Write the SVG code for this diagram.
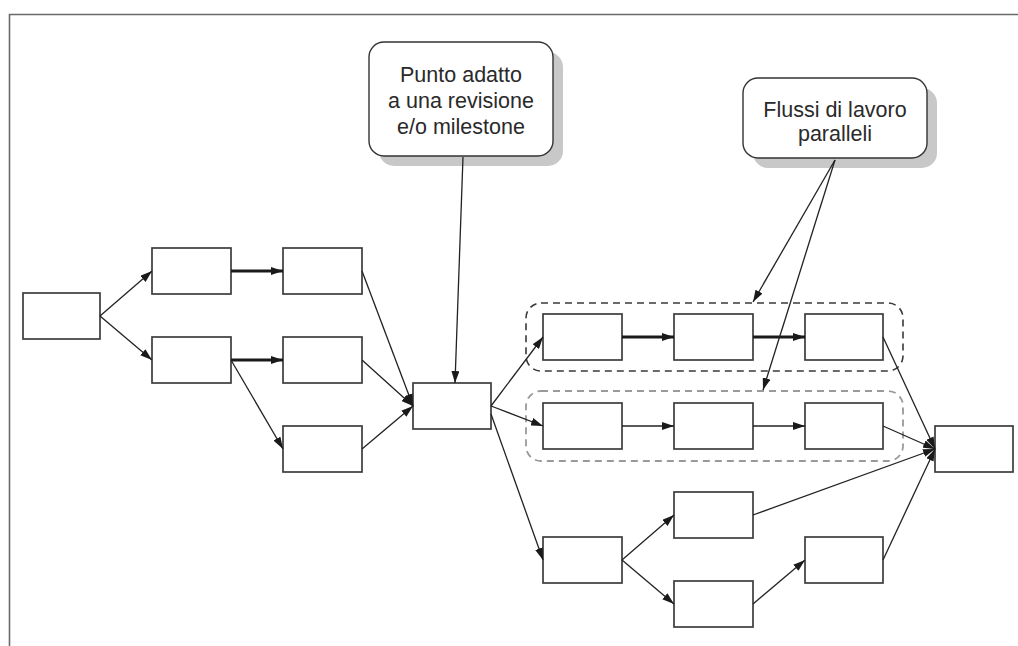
<svg xmlns="http://www.w3.org/2000/svg" width="1018" height="646" viewBox="0 0 1018 646">
<defs>
<marker id="ah" viewBox="0 0 12 8" refX="12" refY="4" markerWidth="12" markerHeight="8" markerUnits="userSpaceOnUse" orient="auto">
<path d="M0,0 L12,4 L0,8 z" fill="#1a1a1a"/>
</marker>
<style>
.node{fill:#fff;stroke:#3c3c3c;stroke-width:1.7}
.c{fill:none;stroke:#222;stroke-width:1.3;marker-end:url(#ah)}
.t{fill:none;stroke:#1a1a1a;stroke-width:2.8;marker-end:url(#ah)}
.call{fill:#fff;stroke:#333;stroke-width:1.4}
.sh{fill:#c8c8c8}
.lbl{font-family:"Liberation Sans",Arial,sans-serif;font-size:21.5px;fill:#2a2a2a;text-anchor:middle}
.grp1{fill:none;stroke:#3a3a3a;stroke-width:1.6;stroke-dasharray:7 5}
.grp2{fill:none;stroke:#9a9a9a;stroke-width:1.8;stroke-dasharray:7 5}
</style>
</defs>
<rect x="0" y="0" width="1018" height="646" fill="#fff"/>
<path d="M9.5,646 L9.5,14.5 L1018,14.5" fill="none" stroke="#6a6a6a" stroke-width="1.6"/>

<g id="group-parallel-1"><rect class="grp1" x="526" y="303" width="377" height="68" rx="15"/></g>
<g id="group-parallel-2"><rect class="grp2" x="526" y="391" width="377" height="70" rx="15"/></g>

<g id="callout-milestone">
<rect class="sh" x="379" y="52" width="184" height="114" rx="15"/>
<rect class="call" x="369" y="42" width="184" height="114" rx="15"/>
<text class="lbl" x="461" y="82">Punto adatto</text>
<text class="lbl" x="461" y="108">a una revisione</text>
<text class="lbl" x="461" y="134">e/o milestone</text>
</g>
<g id="callout-parallel">
<rect class="sh" x="753" y="88" width="184" height="80" rx="15"/>
<rect class="call" x="743" y="78" width="184" height="80" rx="15"/>
<text class="lbl" x="835" y="117">Flussi di lavoro</text>
<text class="lbl" x="835" y="141">paralleli</text>
</g>

<g id="n0"><rect class="node" x="23" y="293" width="77" height="46"/></g>
<g id="n1"><rect class="node" x="152" y="248" width="79" height="46"/></g>
<g id="n2"><rect class="node" x="283" y="248" width="79" height="46"/></g>
<g id="n3"><rect class="node" x="152" y="337" width="79" height="46"/></g>
<g id="n4"><rect class="node" x="283" y="337" width="79" height="46"/></g>
<g id="n5"><rect class="node" x="283" y="426" width="79" height="46"/></g>
<g id="m"><rect class="node" x="413" y="383" width="78" height="46"/></g>
<g id="a1"><rect class="node" x="543" y="314" width="79" height="46"/></g>
<g id="a2"><rect class="node" x="674" y="314" width="79" height="46"/></g>
<g id="a3"><rect class="node" x="805" y="314" width="78" height="46"/></g>
<g id="b1"><rect class="node" x="543" y="403" width="79" height="46"/></g>
<g id="b2"><rect class="node" x="674" y="403" width="79" height="46"/></g>
<g id="b3"><rect class="node" x="805" y="403" width="78" height="46"/></g>
<g id="c1"><rect class="node" x="543" y="537" width="79" height="46"/></g>
<g id="c2"><rect class="node" x="674" y="492" width="79" height="46"/></g>
<g id="c3"><rect class="node" x="674" y="581" width="79" height="46"/></g>
<g id="c4"><rect class="node" x="805" y="537" width="78" height="46"/></g>
<g id="end"><rect class="node" x="935" y="426" width="78" height="46"/></g>

<g id="connectors">
<path class="c" d="M100,316 L152,271"/>
<path class="c" d="M100,316 L152,360"/>
<path class="t" d="M231,271 L283,271"/>
<path class="t" d="M231,360 L283,360"/>
<path class="c" d="M231,360 L283,449"/>
<path class="c" d="M362,271 L413,406"/>
<path class="c" d="M362,360 L413,406"/>
<path class="c" d="M362,449 L413,406"/>
<path class="c" d="M491,406 L543,337"/>
<path class="c" d="M491,406 L543,426"/>
<path class="c" d="M491,414 L543,560"/>
<path class="t" d="M622,337 L674,337"/>
<path class="t" d="M753,337 L805,337"/>
<path class="c" d="M622,426 L674,426"/>
<path class="c" d="M753,426 L805,426"/>
<path class="c" d="M883,337 L935,449"/>
<path class="c" d="M883,426 L935,449"/>
<path class="c" d="M753,515 L935,449"/>
<path class="c" d="M883,560 L935,449"/>
<path class="c" d="M622,560 L674,515"/>
<path class="c" d="M622,560 L674,604"/>
<path class="c" d="M753,604 L805,560"/>
<path class="c" d="M463,157 L455,383"/>
<path class="c" d="M835,160 L753,302"/>
<path class="c" d="M835,160 L763,390"/>
</g>
</svg>
